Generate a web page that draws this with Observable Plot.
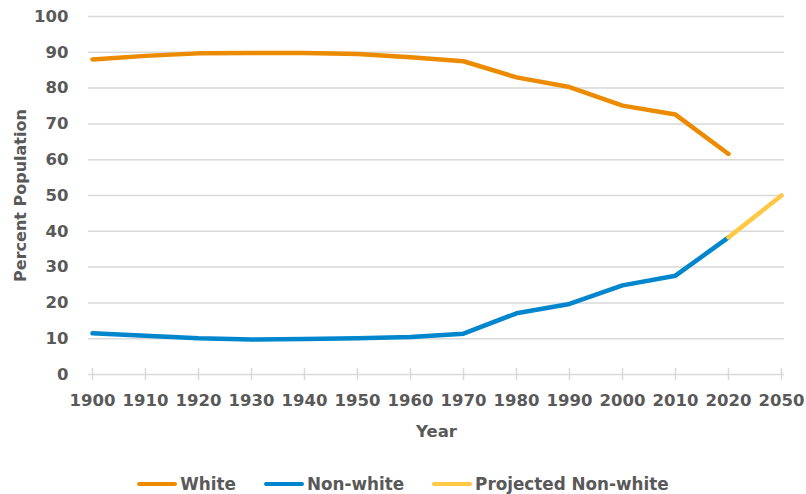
<!DOCTYPE html>
<html>
<head>
<meta charset="utf-8">
<script src="https://cdn.jsdelivr.net/npm/d3@7"></script>
<script src="https://cdn.jsdelivr.net/npm/@observablehq/plot@0.6"></script>
<style>
  html, body { margin: 0; padding: 0; background: #fff; }
  body { width: 806px; height: 494px; overflow: hidden; font-family: "DejaVu Sans", sans-serif; }
  #legend { display: flex; justify-content: center; align-items: center; gap: 28px; height: 20px; margin-top: 14px; padding-left: 0px; }
  .item { display: flex; align-items: center; gap: 3px; font-weight: bold; font-size: 16.8px; color: #595959; }
  .sw { width: 40px; height: 4px; border-radius: 2px; }
</style>
</head>
<body>
<div id="chart"></div>
<div id="legend"></div>
<script>
const years = ["1900","1910","1920","1930","1940","1950","1960","1970","1980","1990","2000","2010","2020","2050"];
const histYears = years.slice(0, 13);
const white = [88.0, 89.0, 89.7, 89.8, 89.8, 89.5, 88.6, 87.5, 83.0, 80.3, 75.1, 72.6, 61.6];
const nonWhite = [11.5, 10.8, 10.1, 9.8, 9.9, 10.1, 10.5, 11.4, 17.1, 19.7, 24.9, 27.6, 38.3];
const projYears = ["2020", "2050"];
const projected = [38.3, 50.0];
const yTicks = [0,10,20,30,40,50,60,70,80,90,100];
const seriesNames = ["White", "Non-white", "Projected Non-white"];
const colors = ["#ED8B00", "#0086CC", "#FFC845"];

const whiteData = histYears.map((y, i) => ({year: y, value: white[i]}));
const nonWhiteData = histYears.map((y, i) => ({year: y, value: nonWhite[i]}));
const projData = projYears.map((y, i) => ({year: y, value: projected[i]}));

const chart = Plot.plot({
  width: 806,
  height: 460,
  marginTop: 16,
  marginBottom: 86,
  marginLeft: 88,
  marginRight: 22,
  style: {fontFamily: "DejaVu Sans, sans-serif", fontWeight: "bold", fontSize: "16px", color: "#595959", background: "#fff"},
  x: {type: "point", domain: years, padding: 0, label: null},
  y: {domain: [0, 100], label: null},
  marks: [
    Plot.ruleY(yTicks.filter(d => d > 0), {stroke: "#d9d9d9", strokeWidth: 1.5}),
    Plot.ruleY([0], {stroke: "#d9d9d9", strokeWidth: 1.5}),
    Plot.ruleX(years, {x: d => d, y1: -1.7, y2: 1.7, stroke: "#d9d9d9", strokeWidth: 1.5}),
    Plot.axisY(yTicks, {tickSize: 0, tickPadding: 20, fontSize: 16.5, fontWeight: "bold", fill: "#595959", label: null}),
    Plot.axisX(years, {tickSize: 0, tickPadding: 20, fontSize: 16.5, fontWeight: "bold", fill: "#595959", label: null}),
    Plot.line(whiteData, {x: "year", y: "value", stroke: colors[0], strokeWidth: 4.5, strokeLinecap: "round", strokeLinejoin: "round"}),
    Plot.line(nonWhiteData, {x: "year", y: "value", stroke: colors[1], strokeWidth: 4.5, strokeLinecap: "round", strokeLinejoin: "round"}),
    Plot.line(projData, {x: "year", y: "value", stroke: colors[2], strokeWidth: 4.5, strokeLinecap: "round", strokeLinejoin: "round"}),
    Plot.text(["Year"], {frameAnchor: "bottom", dy: 62, fontSize: 16.5, fontWeight: "bold", fill: "#595959"}),
    Plot.text(["Percent Population"], {frameAnchor: "left", textAnchor: "middle", dx: -68, rotate: -90, fontSize: 16, fontWeight: "bold", fill: "#595959"})
  ]
});
document.getElementById("chart").appendChild(chart);

const legend = document.getElementById("legend");
seriesNames.forEach((name, i) => {
  const item = document.createElement("div");
  item.className = "item";
  const sw = document.createElement("div");
  sw.className = "sw";
  sw.style.background = colors[i];
  const label = document.createElement("span");
  label.textContent = name;
  item.appendChild(sw);
  item.appendChild(label);
  legend.appendChild(item);
});
</script>
</body>
</html>
